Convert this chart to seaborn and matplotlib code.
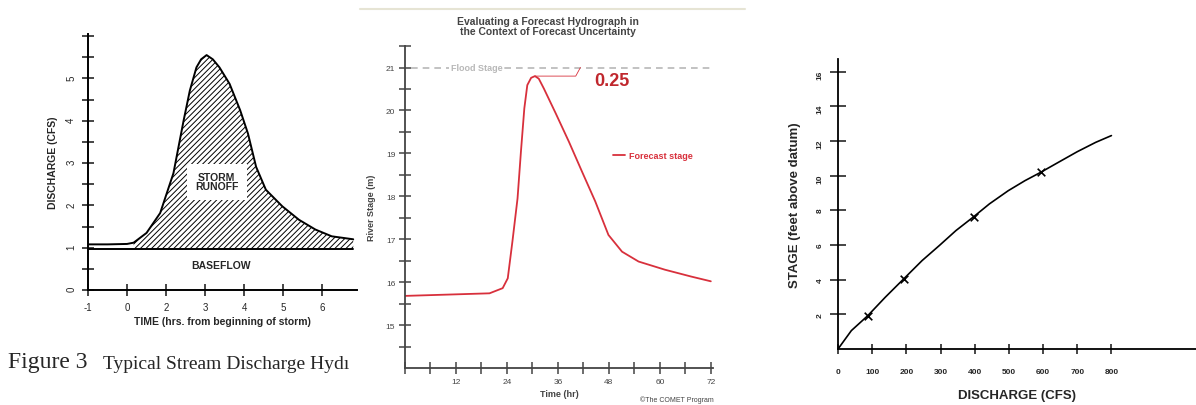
import numpy as np
import pandas as pd
import matplotlib.pyplot as plt
from matplotlib.lines import Line2D
import seaborn as sns

# ---- data ----
# panel 1: storm hydrograph (x = tick index, labels below)
time_ticklabels = ['-1', '0', '2', '3', '4', '5', '6']
storm_t = [0, 0.5, 1.0, 1.17, 1.5, 1.85, 2.19, 2.45, 2.61, 2.78, 2.9, 3.04, 3.2,
           3.37, 3.63, 3.9, 4.1, 4.31, 4.56, 4.98, 5.41, 5.83, 6.25, 6.8]
storm_q = [1.08, 1.08, 1.09, 1.12, 1.35, 1.82, 2.76, 4.0, 4.71, 5.26, 5.45, 5.55, 5.45,
           5.26, 4.87, 4.25, 3.7, 2.91, 2.37, 1.98, 1.66, 1.43, 1.27, 1.2]
baseflow_q = 0.97

# panel 2: forecast stage (hr, m)
fc_hours = [0, 10, 19.9, 23.0, 24.2, 25.3, 26.5, 27.3, 28.1, 28.8, 29.7, 30.6, 31.5, 32.7,
            35.5, 38.6, 41.7, 44.8, 47.9, 51.1, 55.0, 61.2, 67.4, 72]
fc_stage = [15.68, 15.71, 15.74, 15.86, 16.09, 16.95, 17.95, 19.04, 20.05, 20.59, 20.76,
            20.8, 20.74, 20.51, 19.93, 19.27, 18.57, 17.88, 17.1, 16.71, 16.48, 16.29,
            16.13, 16.02]
flood_stage = 21
peak_margin = '0.25'

# panel 3: rating curve (cfs, ft)
rating_q = [0, 39, 87, 138, 192, 246, 296, 345, 397, 443, 498, 547, 593, 645, 700, 754, 800]
rating_h = [0, 1.06, 1.92, 2.98, 4.04, 5.10, 5.96, 6.83, 7.63, 8.37, 9.13, 9.71, 10.19,
            10.77, 11.38, 11.92, 12.31]
meas_q = [87, 192, 397, 593]
meas_h = [1.92, 4.04, 7.63, 10.19]

sns.set_theme(style="ticks")
plt.rcParams['font.family'] = ['Liberation Sans', 'DejaVu Sans']
plt.rcParams['hatch.linewidth'] = 0.7

fig = plt.figure(figsize=(11.96, 4.06), dpi=100)
fig.patch.set_facecolor('white')

# ---------------- panel 1 ----------------
ax1 = fig.add_axes([0.0736, 0.283, 0.225, 0.631])
df1 = pd.DataFrame({'t': storm_t, 'q': storm_q})
sns.lineplot(data=df1, x='t', y='q', ax=ax1, color='black', lw=1.4,
             sort=False, estimator=None)
ax1.plot([storm_t[0], storm_t[-1]], [baseflow_q, baseflow_q], color='black', lw=1.4)
t = np.array(storm_t)
ax1.fill_between(t, storm_q, baseflow_q, where=t >= 1.1, facecolor='none',
                 edgecolor='black', hatch='//////', lw=0)
ax1.text(3.3, 2.56, 'STORM\nRUNOFF', ha='center', va='center', fontsize=7.5,
         fontweight='bold', linespacing=0.95,
         bbox=dict(facecolor='white', edgecolor='none', pad=6))
ax1.text(3.4, 0.6, 'BASEFLOW', ha='center', va='center', fontsize=7.5, fontweight='bold')
ax1.set_xlim(0, 6.9)
ax1.set_ylim(0, 6.05)
ax1.set_xticks(range(len(time_ticklabels)))
ax1.set_xticklabels(time_ticklabels)
yt = np.arange(0, 6.01, 0.5)
ax1.set_yticks(yt)
ax1.set_yticklabels([str(int(v)) if v == int(v) and v < 6 else '' for v in yt])
ax1.tick_params(axis='both', direction='inout', length=9, width=1.2,
                labelsize=7, pad=4)
ax1.tick_params(axis='y', labelrotation=90)
ax1.set_xlabel('TIME (hrs. from beginning of storm)', fontsize=7.5, fontweight='bold', labelpad=3)
ax1.set_ylabel('DISCHARGE (CFS)', fontsize=7.5, fontweight='bold', labelpad=6)
sns.despine(ax=ax1)
for s in ('left', 'bottom'):
    ax1.spines[s].set_linewidth(1.4)
    ax1.spines[s].set_color('black')
ax1.patch.set_alpha(0)

fig.text(8 / 1196, 1 - 363 / 406, 'Figure 3', fontsize=17, va='center', ha='left',
         family=['Liberation Serif', 'DejaVu Serif'])
fig.text(103 / 1196, 1 - 365 / 406, 'Typical Stream Discharge Hydı', fontsize=14,
         va='center', ha='left', family=['Liberation Serif', 'DejaVu Serif'])

# ---------------- panel 2 ----------------
red = '#d8303c'
ax2 = fig.add_axes([0.3386, 0.0911, 0.2575, 0.793])
df2 = pd.DataFrame({'hour': fc_hours, 'stage': fc_stage})
sns.lineplot(data=df2, x='hour', y='stage', ax=ax2, color=red, lw=1.3,
             label='Forecast stage')
ax2.axhline(flood_stage, color='#b8b8b8', lw=1.2, ls=(0, (4, 3)), xmin=0.02)
ax2.text(16.8, flood_stage, 'Flood Stage', color='#b8b8b8', fontsize=6.5,
         fontweight='bold', ha='center', va='center',
         bbox=dict(facecolor='white', edgecolor='none', pad=1))
ipk = int(np.argmax(fc_stage))
ax2.plot([fc_hours[ipk], 40.2, 41.3], [fc_stage[ipk], fc_stage[ipk], flood_stage],
         color=red, lw=0.6)
ax2.text(48.8, 20.7, peak_margin, color='#c0272d', fontsize=13, fontweight='bold',
         ha='center', va='center')
leg = ax2.legend(frameon=False, loc='center left', bbox_to_anchor=(0.665, 0.66),
                 handlelength=1.3, handletextpad=0.4, fontsize=6.5, borderaxespad=0)
for txt in leg.get_texts():
    txt.set_color(red)
    txt.set_fontweight('bold')
ax2.set_xlim(0, 72.5)
ax2.set_ylim(14, 21.5)
xt = np.arange(0, 73, 6)
ax2.set_xticks(xt)
ax2.set_xticklabels([str(v) if v % 12 == 0 and v > 0 else '' for v in xt])
yt2 = np.arange(14.5, 21.6, 0.5)
ax2.set_yticks(yt2)
ax2.set_yticklabels([str(int(v)) if v == int(v) else '' for v in yt2])
ax2.tick_params(axis='both', direction='inout', length=8, width=1.1,
                labelsize=6, colors='#444444', pad=3)
ax2.set_xlabel('Time (hr)', fontsize=6.5, fontweight='bold', color='#444444', labelpad=3)
ax2.set_ylabel('River Stage (m)', fontsize=6.5, fontweight='bold', color='#444444', labelpad=7)
sns.despine(ax=ax2)
for s in ('left', 'bottom'):
    ax2.spines[s].set_linewidth(1.3)
    ax2.spines[s].set_color('#444444')
ax2.patch.set_alpha(0)

fig.text(548 / 1196, 1 - 27 / 406,
         'Evaluating a Forecast Hydrograph in\nthe Context of Forecast Uncertainty',
         ha='center', va='center', fontsize=7.5, fontweight='bold', color='#444444',
         linespacing=1.1)
fig.text(677 / 1196, 1 - 400 / 406, '\u00a9The COMET Program', ha='center', va='center',
         fontsize=5, color='#444444')
fig.add_artist(Line2D([360 / 1196, 745 / 1196], [1 - 10 / 406] * 2,
                      color='#e6e4d4', lw=1.5))

# ---------------- panel 3 ----------------
ax3 = fig.add_axes([0.7007, 0.138, 0.300, 0.713])
df3 = pd.DataFrame({'q': rating_q, 'h': rating_h})
sns.lineplot(data=df3, x='q', y='h', ax=ax3, color='black', lw=1.2)
sns.scatterplot(x=meas_q, y=meas_h, ax=ax3, marker='x', color='black', s=30,
                linewidth=1.2)
ax3.set_xlim(0, 1050)
ax3.set_ylim(0, 16.7)
ax3.set_xticks(np.arange(0, 801, 100))
ax3.set_yticks(np.arange(2, 17, 2))
ax3.tick_params(axis='x', direction='inout', length=7, width=1.2, labelsize=6, pad=10)
ax3.tick_params(axis='y', direction='inout', length=11, width=1.2, labelsize=6,
                pad=5, labelrotation=90)
for lab in ax3.get_xticklabels() + ax3.get_yticklabels():
    lab.set_fontweight('bold')
ax3.set_xlabel('DISCHARGE (CFS)', fontsize=9.5, fontweight='bold', labelpad=10)
ax3.set_ylabel('STAGE (feet above datum)', fontsize=9.5, fontweight='bold', labelpad=11)
sns.despine(ax=ax3)
for s in ('left', 'bottom'):
    ax3.spines[s].set_linewidth(1.3)
    ax3.spines[s].set_color('black')
ax3.patch.set_alpha(0)

fig.savefig('out.png', dpi=100, facecolor='white')
